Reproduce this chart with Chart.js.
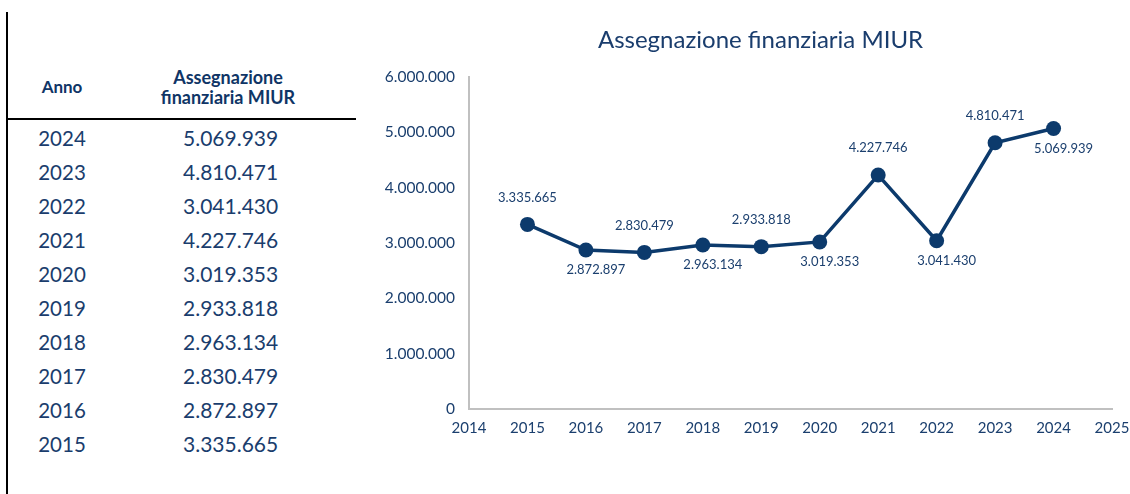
<!DOCTYPE html>
<html><head><meta charset="utf-8">
<script src="https://cdn.jsdelivr.net/npm/chart.js@4.4.1/dist/chart.umd.min.js"></script>
<style>
html,body{margin:0;padding:0;background:#fff;}
body{width:1130px;height:494px;position:relative;overflow:hidden;font-family:Lato,sans-serif;}
#vline{position:absolute;left:6px;top:12px;width:2px;height:482px;background:#000;}
#hline{position:absolute;left:7px;top:118px;width:349px;height:2px;background:#000;}
.h{position:absolute;font-weight:bold;color:#0f3566;font-size:18px;text-align:center;line-height:20px;}
.c{position:absolute;color:#1a3d6d;font-size:20.5px;line-height:24px;white-space:nowrap;}
#wrap{position:absolute;left:370px;top:0;width:760px;height:494px;}
</style></head><body>
<div id="vline"></div>
<div id="hline"></div>
<div class="h" id="hAnno" style="left:22px;top:77px;width:80px;font-size:17px;">Anno</div>
<div class="h" id="hVal" style="left:128px;top:67px;width:200px;">Assegnazione<br>finanziaria MIUR</div>
<div id="rows"></div>
<div id="wrap"><canvas id="c" width="760" height="494"></canvas></div>
<script>
const chartTitle = "Assegnazione finanziaria MIUR";
const years = [2015, 2016, 2017, 2018, 2019, 2020, 2021, 2022, 2023, 2024];
const values = [3335665, 2872897, 2830479, 2963134, 2933818, 3019353, 4227746, 3041430, 4810471, 5069939];
const xMin = 2014, xMax = 2025;
const yMin = 0, yMax = 6000000, yStep = 1000000;

const NAVY = '#0c3a6c';
const TEXT = '#1b3f6e';

function fmt(n){
  return String(Math.round(n)).replace(/\B(?=(\d{3})+(?!\d))/g, '.');
}

// table (newest first)
const rowsEl = document.getElementById('rows');
for (let k = years.length - 1, r = 0; k >= 0; k--, r++) {
  const cy = 138.3 + 34 * r;
  const y = document.createElement('div');
  y.className = 'c';
  y.style.left = '22px'; y.style.width = '80px'; y.style.textAlign = 'center';
  y.style.top = (cy - 12) + 'px';
  y.textContent = String(years[k]);
  rowsEl.appendChild(y);
  const v = document.createElement('div');
  v.className = 'c';
  v.style.left = '183px';
  v.style.fontSize = '21px';
  v.style.top = (cy - 12) + 'px';
  v.textContent = fmt(values[k]);
  rowsEl.appendChild(v);
}

const labelPlugin = {
  id: 'pointLabels',
  afterDatasetsDraw(chart) {
    const ctx = chart.ctx;
    const meta = chart.getDatasetMeta(0);
    ctx.save();
    ctx.font = '13px Lato, sans-serif';
    ctx.fillStyle = TEXT;
    ctx.textAlign = 'center';
    ctx.textBaseline = 'middle';
    meta.data.forEach((pt, i) => {
      const above = i % 2 === 0;
      const x = pt.x + (above ? 0 : 10);
      const y = above ? pt.y - 27 : pt.y + 20;
      ctx.fillText(fmt(values[i]), x, y);
    });
    ctx.restore();
  }
};

const titlePlugin = {
  id: 'offsetTitle',
  afterDraw(chart) {
    const ctx = chart.ctx;
    const a = chart.chartArea;
    ctx.save();
    ctx.font = '24px Lato, sans-serif';
    ctx.fillStyle = '#1a3d6d';
    ctx.textAlign = 'center';
    ctx.textBaseline = 'middle';
    ctx.fillText(chartTitle, (a.left + a.right) / 2 - 30, 40);
    ctx.restore();
  }
};

new Chart(document.getElementById('c'), {
  type: 'line',
  data: {
    datasets: [{
      data: years.map((yr, i) => ({x: yr, y: values[i]})),
      borderColor: NAVY,
      backgroundColor: NAVY,
      borderWidth: 3.5,
      pointRadius: 7.5,
      pointHoverRadius: 7.5,
      pointBackgroundColor: NAVY,
      pointBorderWidth: 0,
      tension: 0,
      clip: false
    }]
  },
  options: {
    responsive: false,
    animation: false,
    events: [],
    layout: { padding: { left: 0, right: 18, top: 77, bottom: 0 } },
    plugins: {
      legend: { display: false },
      tooltip: { enabled: false },
      title: { display: false }
    },
    scales: {
      x: {
        type: 'linear',
        min: xMin, max: xMax,
        afterFit(s){ s.height = 85; s.paddingLeft = 0; s.paddingRight = 0; },
        border: { display: true, color: '#c0c0c0', width: 2 },
        grid: { display: false, drawTicks: false },
        ticks: {
          stepSize: 1,
          color: TEXT,
          padding: 10,
          font: { family: 'Lato, sans-serif', size: 15 },
          callback: v => String(v),
          maxRotation: 0,
          autoSkip: false
        }
      },
      y: {
        min: yMin, max: yMax,
        afterFit(s){ s.width = 99; s.paddingTop = 0; s.paddingBottom = 0; },
        border: { display: true, color: '#c0c0c0', width: 2 },
        grid: { display: false, drawTicks: false },
        ticks: {
          stepSize: yStep,
          color: TEXT,
          padding: 14,
          font: { family: 'Lato, sans-serif', size: 15.5 },
          callback: v => fmt(v)
        }
      }
    }
  },
  plugins: [labelPlugin, titlePlugin]
});
</script>
</body></html>
